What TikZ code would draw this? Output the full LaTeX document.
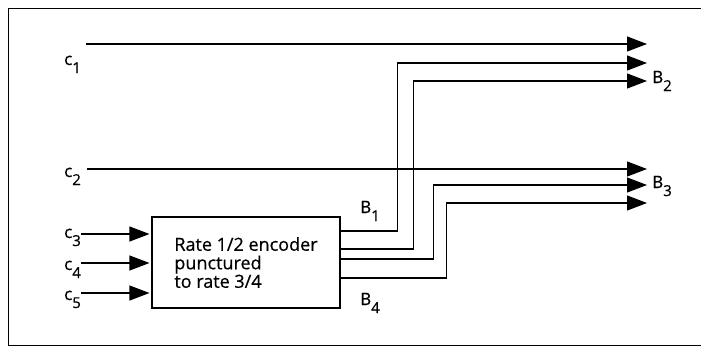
\documentclass[tikz,border=0pt]{standalone}
\usepackage{fontspec}
\setmainfont[UprightFeatures={FakeBold=0.6}]{Open Sans}
\usetikzlibrary{arrows.meta}
\newcommand{\subs}[1]{\raisebox{-8pt}{\fontsize{15}{15}\selectfont #1}}
\tikzset{
    wire/.style={line width=1.1pt},
    arr/.style={wire, -{Triangle[length=20pt,width=15pt]}},
    lbl/.style={inner sep=0pt, anchor=base west, font=\fontsize{17}{17}\selectfont},
    encbox/.style={draw, line width=1.1pt, minimum width=188pt, minimum height=91pt,
        align=left, inner sep=0pt, font=\fontsize{18}{18.5}\selectfont}
}
\begin{document}
\begin{tikzpicture}[x=1pt, y=-1pt]
        \useasboundingbox (0,0) rectangle (701,348);
        \draw[line width=0.8pt] (701,8) -- (8,8) -- (8,345) -- (701,345);
        % encoder
        \node[encbox] (enc) at (246,262.5) {Rate 1/2 encoder\\punctured\\to rate 3/4};
        % input labels
        \foreach \n/\yy in {1/65,2/177,3/238,4/270,5/300}
            \node[lbl] (c\n) at (64,\yy) {c\subs{\n}};
        \node[lbl] (B1) at (360,213) {B\subs{1}};
        \node[lbl] (B2) at (652,83) {B\subs{2}};
        \node[lbl] (B3) at (652,188) {B\subs{3}};
        \node[lbl] (B4) at (360,305) {B\subs{4}};
        % arrow tips on the right
        \foreach \n/\yy in {1/44,2/63,3/81,4/169,5/185,6/203}
            \coordinate (t\n) at (647,\yy);
        \coordinate (s1) at (86,44);
        \coordinate (s2) at (87,169);
        \draw[arr] (s1) -- (t1);
        \draw[arr] (s2) -- (t4);
        \foreach \n/\yy in {3/234,4/263,5/293}
            \draw[arr, shorten >=2pt] (c\n.east |- 0,\yy) -- (enc.west |- 0,\yy);
        % punctured outputs
        \draw[arr] (enc.east |- 0,231) -- ++(57,0) |- (t2);
        \draw[arr] (enc.east |- 0,249) -- ++(73,0) |- (t3);
        \draw[arr] (enc.east |- 0,259) -- ++(93,0) |- (t5);
        \draw[arr] (enc.east |- 0,278) -- ++(106,0) |- (t6);
    \end{tikzpicture}
\end{document}
